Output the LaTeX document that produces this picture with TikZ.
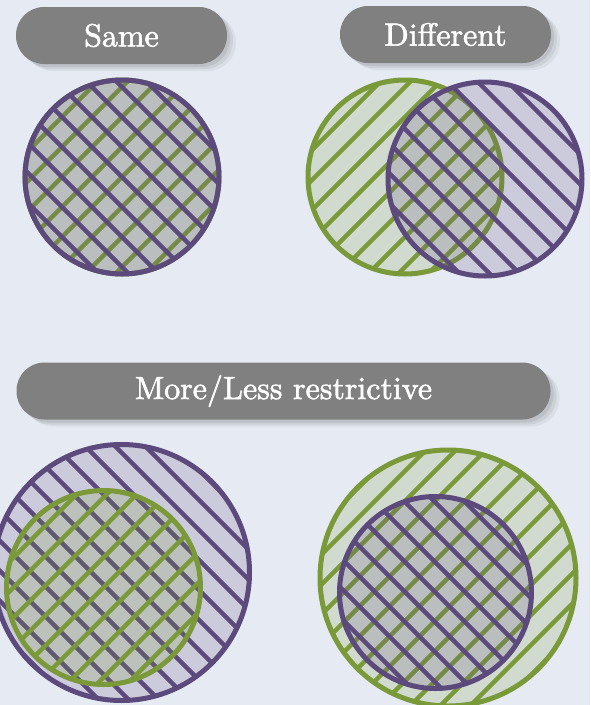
\documentclass[tikz,border=0pt]{standalone}
\usepackage{fontspec}
\newfontfamily\pillfont{lmroman10-regular.otf}[FakeBold=1.8]
\usetikzlibrary{calc}
\definecolor{bgcol}{HTML}{E6EAF2}
\definecolor{pillgray}{HTML}{808080}
\definecolor{vpurple}{HTML}{5C4A7D}
\definecolor{vgreen}{HTML}{7A9A3A}
\tikzset{
  pill/.style={rectangle, rounded corners=28pt, fill=pillgray, text=white,
    minimum height=57pt, inner sep=0pt,
    font=\pillfont\fontsize{32}{38}\selectfont,
    preaction={fill=black, opacity=0.07, transform canvas={shift={(3pt,-3pt)}}},
    preaction={fill=black, opacity=0.06, transform canvas={shift={(6pt,-5pt)}}},
    preaction={fill=black, opacity=0.05, transform canvas={shift={(9pt,-7pt)}}}},
  setfill/.style={fill=#1, fill opacity=0.19},
  setline/.style={draw=#1, line width=5pt},
  hatchline/.style={draw=#1, line width=4.3pt},
}
% #1 cx, #2 cy, #3 r, #4 colour, #5 direction (1 = NW-SE, -1 = SW-NE)
\newcommand\vennset[5]{%
  \fill[setfill=#4] (#1,#2) circle[radius=#3];
  \begin{scope}
    \clip (#1,#2) circle[radius=#3];
    \foreach \k in {-7,...,7}{
      \draw[hatchline=#4] ({#1+\k*30-#3-15},{#2-#5*(#3+15)}) -- ++({2*#3+30},{#5*(2*#3+30)});
    }
  \end{scope}
  \draw[setline=#4] (#1,#2) circle[radius=#3];
}
\begin{document}
\begin{tikzpicture}[x=1pt,y=-1pt]
  \fill[bgcol] (0,0) rectangle (590,705);
  \useasboundingbox (0,0) rectangle (590,705);

  % titles
  \node[pill, minimum width=211pt] (same) at (121.5,35.5) {Same};
  \node[pill, minimum width=211pt] (diff) at (445.5,34.5) {Different};
  \node[pill, minimum width=534pt] (more) at (283.5,391) {More/Less restrictive};

  % Same
  \vennset{122}{177}{97}{vgreen}{-1}
  \vennset{122}{177}{97}{vpurple}{1}

  % Different
  \vennset{405}{177}{97}{vgreen}{-1}
  \vennset{485}{179}{97}{vpurple}{1}

  % More restrictive (left)
  \vennset{121.5}{572.5}{128}{vpurple}{1}
  \vennset{103.5}{587.5}{97}{vgreen}{-1}

  % Less restrictive (right)
  \vennset{448}{578}{128}{vgreen}{-1}
  \vennset{435.5}{592.5}{96}{vpurple}{1}
\end{tikzpicture}
\end{document}
